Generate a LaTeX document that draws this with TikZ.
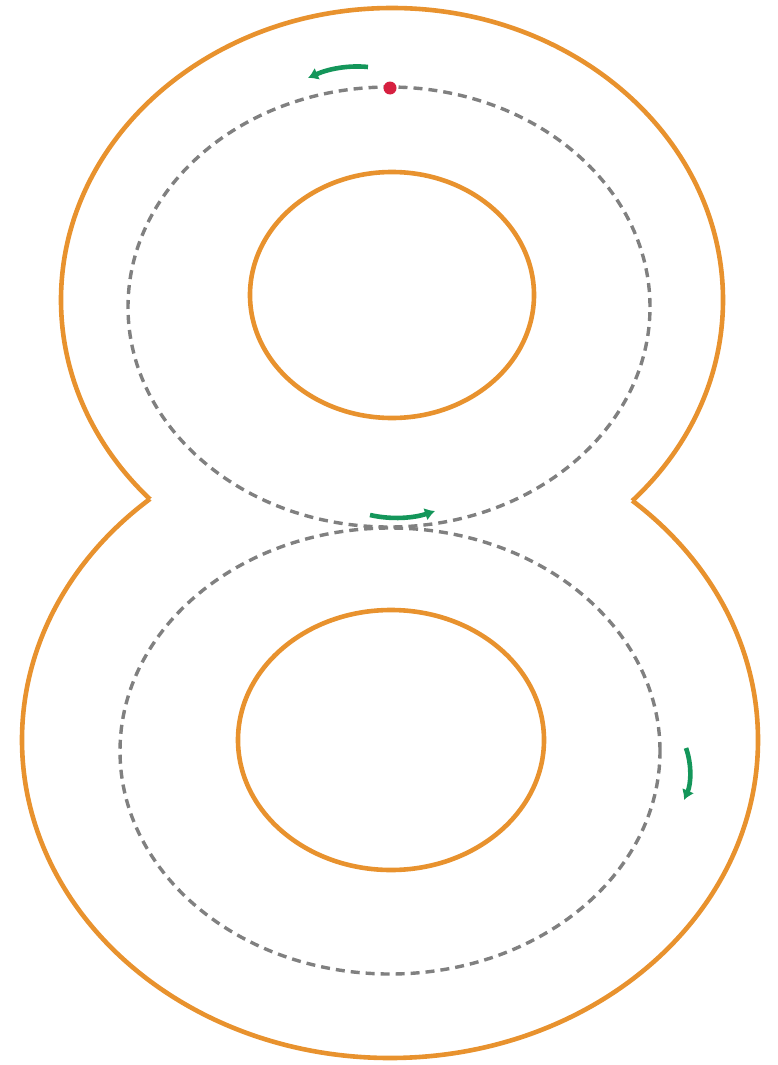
\documentclass[tikz,border=0pt]{standalone}
\usetikzlibrary{arrows.meta}

\definecolor{eightorange}{RGB}{232,146,46}
\definecolor{tracegray}{RGB}{128,128,128}
\definecolor{hintgreen}{RGB}{20,150,90}
\definecolor{startred}{RGB}{214,32,64}

\begin{document}
\begin{tikzpicture}[
  x=1pt, y=-1pt,
  outline/.style={draw=eightorange, line width=4.6pt},
  trace/.style={draw=tracegray, line width=3.4pt, dash pattern=on 9pt off 6pt},
  hint/.style={draw=hintgreen, line width=4.6pt, -{Latex[length=10pt, width=13pt]}}
]
\useasboundingbox (0,0) rectangle (778,1065);

% outer outline of the eight
\begin{scope}[even odd rule]
  \clip (-20,-20) rectangle (800,1100)
    (390,740) ellipse [x radius=368pt, y radius=318pt];
  \draw[outline] (392,300) ellipse [x radius=331pt, y radius=292pt];
\end{scope}
\begin{scope}[even odd rule]
  \clip (-20,-20) rectangle (800,1100)
    (392,300) ellipse [x radius=331pt, y radius=292pt];
  \draw[outline] (390,740) ellipse [x radius=368pt, y radius=318pt];
\end{scope}

% holes
\draw[outline] (392,295) ellipse [x radius=142pt, y radius=123pt];
\draw[outline] (391,740) ellipse [x radius=153pt, y radius=130pt];

% tracing path
\draw[trace] (389,307) ellipse [x radius=261pt, y radius=220pt];
\draw[trace] (390,751) ellipse [x radius=270pt, y radius=223pt];

% start point
\fill[startred] (390,88) circle [radius=6.5pt];

% direction hints
\draw[hint] (368,67) .. controls (348,65) and (328,69) .. (308,78);
\draw[hint] (370,515) .. controls (392,520) and (414,518) .. (435,511);
\draw[hint] (686,748) .. controls (692,765) and (691,784) .. (684,800);

\end{tikzpicture}
\end{document}
